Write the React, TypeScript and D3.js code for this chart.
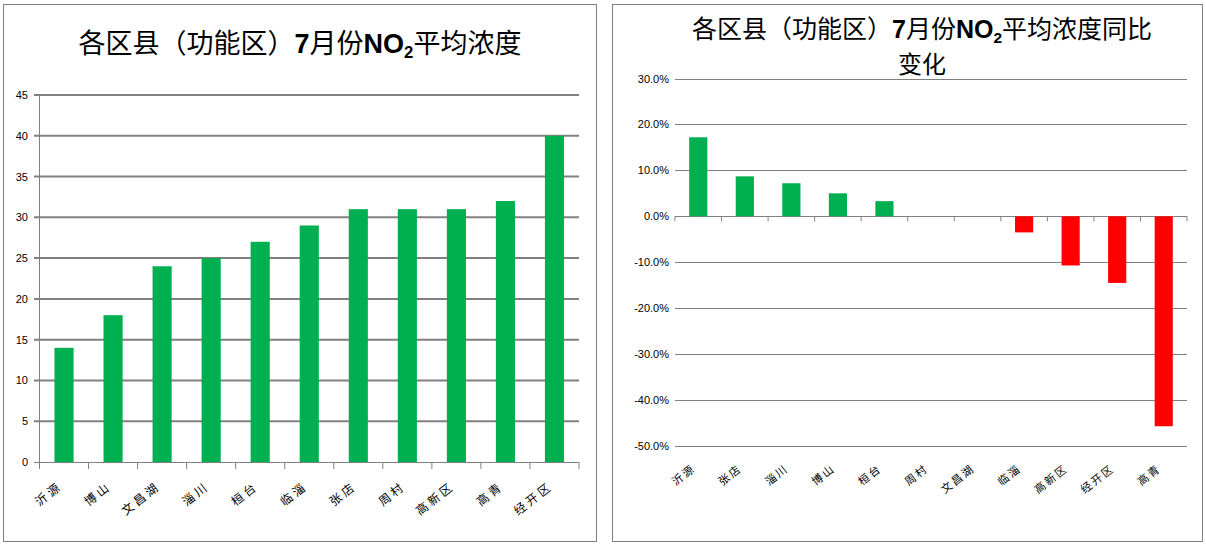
import React from 'react';
import * as d3 from 'd3';

// left chart: July NO2 average concentration
const leftCats = ['沂源', '博山', '文昌湖', '淄川', '桓台', '临淄', '张店', '周村', '高新区', '高青', '经开区'];
const leftVals = [14, 18, 24, 25, 27, 29, 31, 31, 31, 32, 40];
const leftTicks = [0, 5, 10, 15, 20, 25, 30, 35, 40, 45];

// right chart: year-on-year change
const rightCats = ['沂源', '张店', '淄川', '博山', '桓台', '周村', '文昌湖', '临淄', '高新区', '经开区', '高青'];
const rightVals = [0.172, 0.087, 0.072, 0.05, 0.033, 0, 0, -0.035, -0.107, -0.145, -0.457];
const rightTicks = [0.3, 0.2, 0.1, 0, -0.1, -0.2, -0.3, -0.4, -0.5];

const GREEN = '#00b050';
const RED = '#ff0000';
const GRID = '#808080';
const CJK = '"Noto Sans CJK SC", sans-serif';
const NUM = '"Liberation Sans", Arial, sans-serif';

const fmtPct = (v: number) => d3.format('.1%')(v).replace('−', '-');

function Title({ x, y, size, suffix }: { x: number; y: number; size: number; suffix: string }) {
    return (
        <text x={x} y={y} textAnchor="middle" fontSize={size} fontFamily={CJK} fill="#000">
            <tspan>各区县（功能区）</tspan>
            <tspan fontFamily={NUM} fontWeight="bold">7</tspan>
            <tspan>月份</tspan>
            <tspan fontFamily={NUM} fontWeight="bold">NO</tspan>
            <tspan fontFamily={NUM} fontWeight="bold" fontSize={size * 0.62} dy={size * 0.2}>2</tspan>
            <tspan dy={-size * 0.2}>平均浓度{suffix}</tspan>
        </text>
    );
}

function LeftChart() {
    const x = d3.scaleBand<string>().domain(leftCats).range([39.5, 579]).paddingInner(0.61).paddingOuter(0.305);
    const y = d3.scaleLinear().domain([0, 45]).range([462, 95]);
    const bounds = leftCats.map((c) => (x(c) as number) - (x.step() - x.bandwidth()) / 2).concat([579]);
    return (
        <g>
            <rect x={3.5} y={4.5} width={593} height={537} fill="#fff" stroke={GRID} />
            <Title x={300} y={53} size={27} suffix="" />
            {leftTicks.map((t) => (
                <g key={t}>
                    {t > 0 && (
                        <line x1={34} x2={579} y1={y(t)} y2={y(t)} stroke={GRID} strokeWidth={2} />
                    )}
                    <text x={28} y={y(t) + 4} textAnchor="end" fontSize={11} fontFamily={NUM} fill="#000">
                        {t}
                    </text>
                </g>
            ))}
            {leftCats.map((c, i) => (
                <rect key={c} x={x(c)} y={y(leftVals[i])} width={x.bandwidth()} height={y(0) - y(leftVals[i])} fill={GREEN} />
            ))}
            <line x1={39.5} x2={39.5} y1={y(45)} y2={y(0)} stroke={GRID} />
            <line x1={34} x2={579} y1={y(0) + 0.5} y2={y(0) + 0.5} stroke={GRID} />
            {bounds.map((b, i) => (
                <line key={i} x1={b} x2={b} y1={y(0)} y2={y(0) + 7} stroke={GRID} />
            ))}
            {leftCats.map((c) => {
                const cx = (x(c) as number) + x.bandwidth() / 2;
                return (
                    <text
                        key={c}
                        transform={`translate(${cx - 1},${y(0) + 26}) rotate(-38)`}
                        textAnchor="end"
                        fontSize={12}
                        letterSpacing={3}
                        fontFamily={CJK}
                        fill="#000"
                    >
                        {c}
                    </text>
                );
            })}
        </g>
    );
}

function RightChart() {
    const x = d3.scaleBand<string>().domain(rightCats).range([675, 1187]).paddingInner(0.61).paddingOuter(0.305);
    const y = d3.scaleLinear().domain([-0.5, 0.3]).range([446, 78.5]);
    const bounds = rightCats.map((c) => (x(c) as number) - (x.step() - x.bandwidth()) / 2).concat([1187]);
    return (
        <g>
            <rect x={612.5} y={4.5} width={590} height={537} fill="#fff" stroke={GRID} />
            <Title x={922} y={38} size={25} suffix="同比" />
            <text x={922} y={73} textAnchor="middle" fontSize={24} fontFamily={CJK} fill="#000">变化</text>
            {rightTicks.map((t) => (
                <g key={t}>
                    <line x1={675} x2={1187} y1={Math.round(y(t)) + 0.5} y2={Math.round(y(t)) + 0.5} stroke={GRID} />
                    <text x={669} y={y(t) + 4} textAnchor="end" fontSize={11} fontFamily={NUM} fill="#000">
                        {fmtPct(t)}
                    </text>
                </g>
            ))}
            {rightCats.map((c, i) => {
                const v = rightVals[i];
                return (
                    <rect
                        key={c}
                        x={x(c)}
                        y={y(Math.max(0, v))}
                        width={x.bandwidth()}
                        height={Math.abs(y(v) - y(0))}
                        fill={v >= 0 ? GREEN : RED}
                    />
                );
            })}
            {bounds.map((b, i) => (
                <line key={i} x1={b} x2={b} y1={y(0)} y2={y(0) + 5} stroke={GRID} />
            ))}
            {rightCats.map((c) => {
                const cx = (x(c) as number) + x.bandwidth() / 2;
                return (
                    <text
                        key={c}
                        transform={`translate(${cx - 2},${y(-0.5) + 24}) rotate(-38)`}
                        textAnchor="end"
                        fontSize={11}
                        letterSpacing={2}
                        fontFamily={CJK}
                        fill="#000"
                    >
                        {c}
                    </text>
                );
            })}
        </g>
    );
}

export default function App() {
    return (
        <svg
            width={1206}
            height={544}
            style={{ position: 'absolute', left: 0, top: 0, background: '#fff' }}
        >
            <LeftChart />
            <RightChart />
        </svg>
    );
}
